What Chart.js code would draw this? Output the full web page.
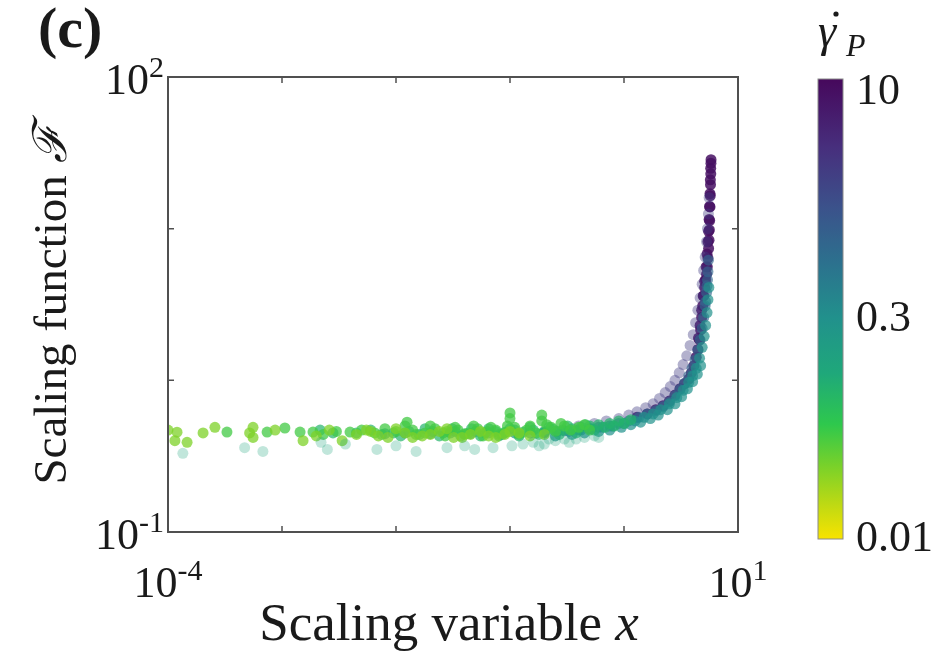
<!DOCTYPE html>
<html>
<head>
<meta charset="utf-8">
<script src="https://cdn.jsdelivr.net/npm/chart.js@4.4.0/dist/chart.umd.min.js"></script>
<style>
  html, body { margin: 0; padding: 0; background: #fff; }
  #wrap { width: 932px; height: 653px; position: relative; }
</style>
</head>
<body>
<div id="wrap"><canvas id="chart"></canvas></div>
<script>
// shear rate of each data set
const rates = [0.03, 0.05, 0.1, 0.3, 1, 3, 10];

// [x, F] pairs, one list per shear rate
const pts003 = [[1.0e-4,0.47],[1.2e-4,0.455],[1.15e-4,0.40],[1.47e-4,0.39],[2.03e-4,0.45],[2.58e-4,0.49],[5.57e-4,0.49],[5.57e-4,0.42],[5.2e-4,0.45],[8.7e-4,0.47],[1.53e-3,0.40],[2e-3,0.43],[2.6e-3,0.47],[3.37e-3,0.40],[4.5e-3,0.44],[5.5e-3,0.47],[6e-3,0.46],[7e-3,0.43],[8.5e-3,0.42],[1.0e-2,0.48],[1.2e-2,0.45],[1.4e-2,0.42],[1.7e-2,0.43],[2.0e-2,0.44],[2.4e-2,0.46],[2.8e-2,0.48],[3.2e-2,0.42],[3.8e-2,0.42],[4.5e-2,0.44],[5.5e-2,0.46],[6.5e-2,0.43],[7.5e-2,0.42],[9e-2,0.44],[0.1,0.46],[0.12,0.45],[0.15,0.43],[0.2,0.44]];
const pts005 = [[3.29e-4,0.456],[7.4e-4,0.456],[1.06e-3,0.485],[1.44e-3,0.456],[1.87e-3,0.456],[2.3e-3,0.44],[3.0e-3,0.46],[3.95e-3,0.456],[5e-3,0.47],[6.5e-3,0.45],[8e-3,0.48],[1.0e-2,0.46],[1.2e-2,0.5],[1.25e-2,0.53],[1.4e-2,0.47],[1.5e-2,0.44],[1.8e-2,0.45],[2.0e-2,0.5],[2.2e-2,0.48],[2.7e-2,0.43],[2.8e-2,0.46],[3.3e-2,0.49],[3.5e-2,0.47],[4e-2,0.44],[4.3e-2,0.45],[4.8e-2,0.5],[5.2e-2,0.48],[5.8e-2,0.43],[6.3e-2,0.46],[6.8e-2,0.49],[7.5e-2,0.47],[8e-2,0.44],[0.09,0.45],[0.095,0.5],[0.1,0.61],[0.1,0.56],[0.11,0.49],[0.12,0.44],[0.14,0.47],[0.15,0.5],[0.17,0.45],[0.19,0.59],[0.19,0.54],[0.21,0.51],[0.23,0.49],[0.25,0.46],[0.28,0.52],[0.3,0.5],[0.34,0.47],[0.4,0.49],[0.45,0.51],[0.5,0.47]];
const pts01 = [[2.16e-3,0.47],[2.8e-3,0.45],[4.5e-3,0.45],[6e-3,0.47],[7.5e-3,0.44],[9.5e-3,0.45],[1.1e-2,0.43],[1.3e-2,0.46],[1.6e-2,0.44],[1.8e-2,0.48],[2.1e-2,0.46],[2.4e-2,0.43],[2.6e-2,0.45],[3.1e-2,0.48],[3.3e-2,0.46],[3.7e-2,0.43],[4e-2,0.445],[4.6e-2,0.48],[5e-2,0.46],[5.5e-2,0.43],[6e-2,0.45],[6.5e-2,0.48],[7.5e-2,0.46],[8e-2,0.43],[9e-2,0.455],[0.1,0.48],[0.11,0.47],[0.12,0.43],[0.13,0.455],[0.15,0.49],[0.16,0.47],[0.18,0.44],[0.2,0.46],[0.22,0.49],[0.24,0.475],[0.27,0.44],[0.29,0.47],[0.32,0.5],[0.35,0.48],[0.38,0.45],[0.42,0.49],[0.46,0.51],[0.5,0.5],[0.55,0.47],[0.6,0.51],[0.68,0.49],[0.75,0.52],[0.82,0.5],[0.9,0.54],[1.0,0.52],[1.15,0.55]];
const pts03 = [[8e-3,0.445],[1.2e-2,0.45],[2e-2,0.445],[3e-2,0.45],[4.5e-2,0.445],[6.5e-2,0.45],[8.5e-2,0.44],[0.11,0.45],[0.15,0.45],[0.2,0.45],[0.25,0.43],[0.26,0.46],[0.33,0.46],[0.35,0.44],[0.42,0.47],[0.45,0.45],[0.52,0.48],[0.6,0.46],[0.65,0.49],[0.75,0.47],[0.8,0.5],[0.95,0.49],[1.0,0.52],[1.15,0.51],[1.25,0.54],[1.4,0.53],[1.5,0.57],[1.7,0.56],[1.8,0.6],[2.0,0.59],[2.1,0.64],[2.4,0.64],[2.5,0.7],[2.8,0.7],[2.9,0.77],[3.2,0.78],[3.3,0.86],[3.6,0.88],[3.7,0.97],[4.0,0.98],[4.0,1.07],[4.3,1.2],[4.4,1.1],[4.6,1.4],[4.7,1.25],[4.85,1.65],[5.05,1.95],[5.2,2.3],[5.35,2.8],[5.45,3.4],[5.55,4.1]];
const pts1 = [[0.2,0.455],[0.3,0.465],[0.4,0.47],[0.5,0.48],[0.6,0.49],[0.75,0.5],[0.9,0.52],[1.1,0.54],[1.35,0.57],[1.6,0.6],[1.9,0.63],[2.2,0.67],[2.5,0.72],[2.8,0.79],[3.1,0.87],[3.4,0.96],[3.7,1.07],[3.95,1.2],[4.2,1.36],[4.45,1.58],[4.65,1.85],[4.85,2.2],[5.0,2.6],[5.15,3.1],[5.2,3.3],[5.3,3.8],[5.35,4.2],[5.4,4.6],[5.45,5.2],[5.5,6.2]];
const pts3 = [[0.4,0.5],[0.55,0.52],[0.7,0.54],[0.9,0.56],[1.1,0.59],[1.3,0.62],[1.55,0.66],[1.8,0.7],[2.05,0.76],[2.3,0.83],[2.55,0.91],[2.8,1.0],[3.05,1.12],[3.3,1.27],[3.55,1.45],[3.8,1.7],[4.05,2.0],[4.25,2.4],[4.45,2.9],[4.65,3.5],[4.85,4.3],[5.0,5.3],[5.15,6.5],[5.3,8.2],[5.4,10],[5.5,12.5],[5.58,16]];
const pts10 = [[1.3,0.57],[1.6,0.6],[1.9,0.64],[2.2,0.68],[2.5,0.73],[2.8,0.8],[3.1,0.88],[3.4,0.95],[3.7,1.02],[3.9,1.12],[4.1,1.25],[4.3,1.42],[4.45,1.6],[4.5,1.9],[4.6,1.85],[4.65,2.3],[4.7,2.15],[4.8,2.6],[4.8,2.9],[4.9,3.1],[4.95,3.6],[5.0,3.6],[5.1,4.1],[5.1,4.5],[5.2,4.6],[5.25,5.6],[5.3,5.0],[5.35,6.8],[5.38,5.6],[5.45,6.4],[5.45,8.2],[5.52,7.4],[5.52,9.6],[5.57,8.4],[5.58,11.5],[5.61,9.8],[5.63,14],[5.64,11.3],[5.68,13.9],[5.68,17],[5.71,16.5],[5.72,21],[5.74,19.5],[5.76,25],[5.77,23],[5.79,27],[5.8,28.5]];
// pale points below the band
const ptsFaint = [[1.35e-4,0.33],[4.7e-4,0.36],[6.8e-4,0.34],[2.2e-3,0.39],[2.5e-3,0.35],[3.6e-3,0.38],[6.8e-3,0.35],[1.0e-2,0.37],[1.5e-2,0.34],[2.8e-2,0.36],[0.04,0.37],[4.9e-2,0.35],[7.1e-2,0.36],[0.104,0.37],[0.13,0.38],[0.16,0.39],[0.18,0.37],[0.2,0.38],[0.22,0.41],[0.25,0.40],[0.3,0.41],[0.33,0.39],[0.38,0.41],[0.45,0.42],[0.55,0.43],[0.6,0.42]];
const seriesPts = [pts003, pts005, pts01, pts03, pts1, pts3, pts10];

const xTicks = [1e-4, 1e-3, 1e-2, 1e-1, 1, 10];
const yTicks = [0.1, 1, 10, 100];
const xTickLabels = [[1e-4, '10', '-4'], [10, '10', '1']];
const yTickLabels = [[0.1, '10', '-1'], [100, '10', '2']];
const cbTicks = [0.01, 0.3, 10];
const cbTickLabels = ['0.01', '0.3', '10'];

// colour bar: 0.01 at the bottom, top runs a bit past 10
const cbMin = 0.01, cbMax = 12.4;
const cbStops = [[0, '#46085c'], [0.15, '#472f7d'], [0.28, '#3b528b'], [0.40, '#2c718e'], [0.52, '#21918c'],
                 [0.64, '#1fa87a'], [0.75, '#2ec84d'], [0.84, '#78d12a'], [0.93, '#c2da12'], [1, '#f8e300']];

function hex(h) { return [1, 3, 5].map(i => parseInt(h.substr(i, 2), 16)); }
function cbFrac(v) { return Math.log(cbMax / v) / Math.log(cbMax / cbMin); }
function rateColor(v, a) {
    const f = cbFrac(v);
    for (let i = 1; i < cbStops.length; i++) {
        if (f <= cbStops[i][0]) {
            const [f0, c0] = cbStops[i - 1], [f1, c1] = cbStops[i];
            const t = (f - f0) / (f1 - f0), p = hex(c0), q = hex(c1);
            const c = p.map((v0, k) => Math.round(v0 + (q[k] - v0) * t));
            return `rgba(${c[0]},${c[1]},${c[2]},${a})`;
        }
    }
    return cbStops[cbStops.length - 1][1];
}

const datasets = [{
    data: ptsFaint.map(([x, y]) => ({ x, y })),
    backgroundColor: rateColor(0.15, 0.28),
    pointRadius: 5.5, borderWidth: 0
}];
const alphas = [0.75, 0.75, 0.7, 0.7, 0.65, 0.4, 0.85];
rates.forEach((r, i) => {
    datasets.push({
        label: String(r),
        data: seriesPts[i].map(([x, y]) => ({ x, y })),
        backgroundColor: rateColor(r, alphas[i]),
        pointRadius: 5.5, borderWidth: 0
    });
});

const SERIF = '"Liberation Serif", "DejaVu Serif", serif';

function richText(ctx, parts, x, y, align) {
    let w = 0;
    parts.forEach(p => { ctx.font = p.font; w += ctx.measureText(p.t).width; });
    let cx = align === 'center' ? x - w / 2 : align === 'right' ? x - w : x;
    parts.forEach(p => {
        ctx.font = p.font;
        ctx.fillText(p.t, cx, y + (p.dy || 0));
        cx += ctx.measureText(p.t).width;
    });
}

const decor = {
    id: 'decor',
    afterDraw(chart) {
        const { ctx, chartArea: a, scales: { x, y } } = chart;
        ctx.save();
        ctx.strokeStyle = '#505050';
        ctx.lineWidth = 2;
        ctx.strokeRect(a.left, a.top, a.right - a.left, a.bottom - a.top);
        ctx.lineWidth = 1.5;
        ctx.beginPath();
        xTicks.forEach(v => {
            const px = x.getPixelForValue(v);
            ctx.moveTo(px, a.bottom); ctx.lineTo(px, a.bottom - 6);
            ctx.moveTo(px, a.top); ctx.lineTo(px, a.top + 6);
        });
        yTicks.forEach(v => {
            const py = y.getPixelForValue(v);
            ctx.moveTo(a.left, py); ctx.lineTo(a.left + 6, py);
            ctx.moveTo(a.right, py); ctx.lineTo(a.right - 6, py);
        });
        ctx.stroke();

        ctx.fillStyle = '#1a1a1a';
        ctx.textBaseline = 'alphabetic';
        const base = '44px ' + SERIF, sup = '30px ' + SERIF;
        xTickLabels.forEach(([v, b, s]) => {
            richText(ctx, [{ t: b, font: base }, { t: s, font: sup, dy: -17 }], x.getPixelForValue(v), a.bottom + 65, 'center');
        });
        yTickLabels.forEach(([v, b, s]) => {
            richText(ctx, [{ t: b, font: base }, { t: s, font: sup, dy: -17 }], a.left - 4, y.getPixelForValue(v) + 17, 'right');
        });

        // axis titles
        richText(ctx, [{ t: 'Scaling variable ', font: '53px ' + SERIF }, { t: 'x', font: 'italic 53px ' + SERIF }],
            (a.left + a.right) / 2 - 4, 640, 'center');
        ctx.save();
        ctx.translate(66, (a.top + a.bottom) / 2);
        ctx.rotate(-Math.PI / 2);
        richText(ctx, [{ t: 'Scaling function ', font: '47px ' + SERIF }, { t: 'ℱ', font: 'italic 47px ' + SERIF }], 0, 0, 'center');
        ctx.restore();

        // panel letter
        ctx.font = 'bold 58px ' + SERIF;
        ctx.fillText('(c)', 38, 47);

        // colour bar
        const cb = { left: 818, right: 843, top: 79, bottom: 539 };
        const g = ctx.createLinearGradient(0, cb.top, 0, cb.bottom);
        cbStops.forEach(([f, c]) => g.addColorStop(f, c));
        ctx.fillStyle = g;
        ctx.fillRect(cb.left, cb.top, cb.right - cb.left, cb.bottom - cb.top);
        ctx.strokeStyle = '#8a8a8a';
        ctx.lineWidth = 1;
        ctx.strokeRect(cb.left, cb.top, cb.right - cb.left, cb.bottom - cb.top);
        ctx.fillStyle = '#1a1a1a';
        ctx.font = '44px ' + SERIF;
        ctx.textBaseline = 'middle';
        cbTicks.forEach((v, i) => {
            const py = cb.top + cbFrac(v) * (cb.bottom - cb.top);
            ctx.fillText(cbTickLabels[i], 856, py);
        });
        ctx.textBaseline = 'alphabetic';
        ctx.font = 'italic 46px ' + SERIF;
        ctx.fillText('γ', 818, 46);
        ctx.font = 'italic 32px ' + SERIF;
        ctx.fillText('P', 846, 56);
        ctx.beginPath();
        ctx.arc(836, 14, 2.6, 0, Math.PI * 2);
        ctx.fill();
        ctx.restore();
    }
};

new Chart(document.getElementById('chart'), {
    type: 'scatter',
    data: { datasets },
    options: {
        responsive: true,
        maintainAspectRatio: false,
        animation: false,
        layout: { padding: { left: 168, top: 77, right: 194, bottom: 121 } },
        plugins: { legend: { display: false }, tooltip: { enabled: false } },
        elements: { point: { pointStyle: 'circle' } },
        scales: {
            x: { type: 'logarithmic', min: 1e-4, max: 10, display: false },
            y: { type: 'logarithmic', min: 0.1, max: 100, display: false }
        }
    },
    plugins: [decor]
});
</script>
</body>
</html>
